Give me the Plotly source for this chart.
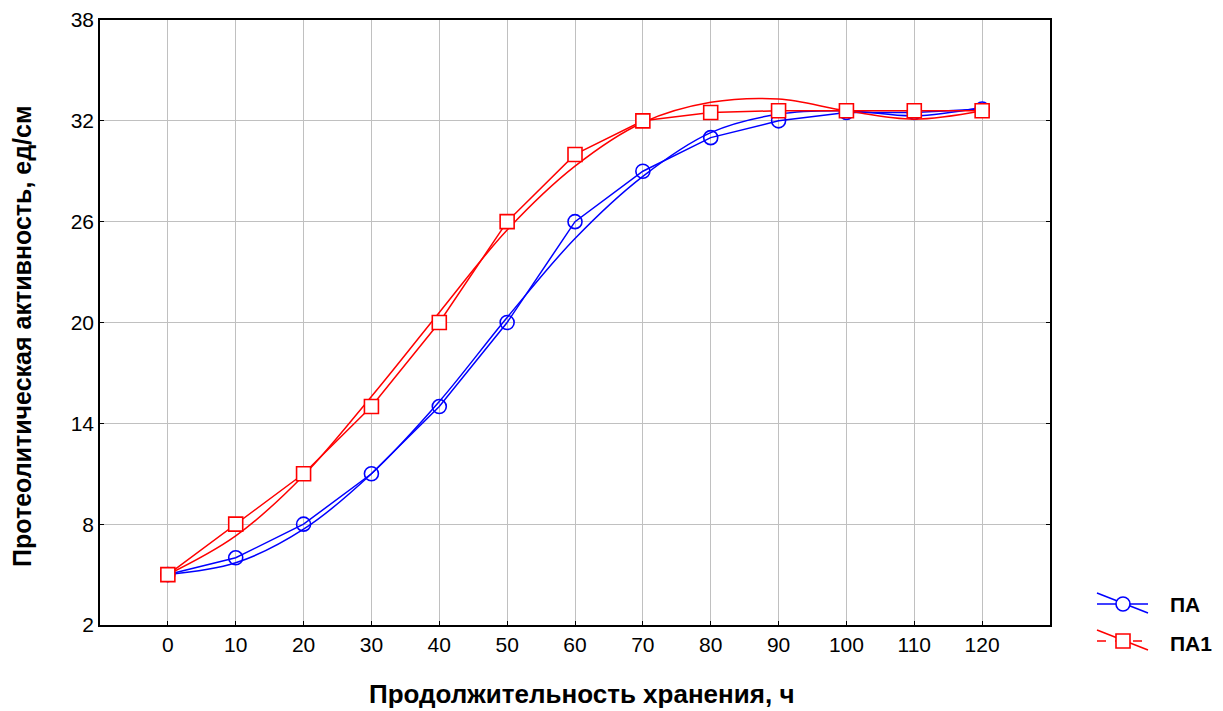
import plotly.graph_objects as go

# Data
hours = [0, 10, 20, 30, 40, 50, 60, 70, 80, 90, 100, 110, 120]
pa = [5.0, 6.0, 8.0, 11.0, 15.0, 20.0, 26.0, 29.0, 31.0, 32.0, 32.5, 32.5, 32.7]
pa1 = [5.0, 8.0, 11.0, 15.0, 20.0, 26.0, 30.0, 32.0, 32.5, 32.6, 32.6, 32.6, 32.6]
# smoothed fitted curves at the same hours
pa_fit = [5.0, 5.7, 7.7, 11.0, 15.3, 20.3, 25.0, 28.7, 31.3, 32.4, 32.6, 32.3, 32.8]
pa1_fit = [5.0, 7.3, 10.9, 15.6, 20.6, 25.5, 29.3, 31.9, 33.1, 33.3, 32.6, 32.1, 32.6]

x_ticks = list(range(0, 121, 10))
y_ticks = [2, 8, 14, 20, 26, 32, 38]

BLUE = "#0000ff"
RED = "#ff0000"
FONT = "Liberation Sans, Arial, sans-serif"

fig = go.Figure()

fig.add_trace(go.Scatter(x=hours, y=pa_fit, mode="lines", line=dict(color=BLUE, width=1.5, shape="spline", smoothing=1.0), showlegend=False, hoverinfo="skip"))
fig.add_trace(go.Scatter(x=hours, y=pa, mode="lines+markers", line=dict(color=BLUE, width=1.5),
                         marker=dict(symbol="circle-open", size=14, color=BLUE, line=dict(width=1.6)), name="ПА", showlegend=False))
fig.add_trace(go.Scatter(x=hours, y=pa1_fit, mode="lines", line=dict(color=RED, width=1.5, shape="spline", smoothing=1.0), showlegend=False, hoverinfo="skip"))
fig.add_trace(go.Scatter(x=hours, y=pa1, mode="lines+markers", line=dict(color=RED, width=1.5),
                         marker=dict(symbol="square", size=14, color="white", line=dict(width=1.6, color=RED)), name="ПА1", showlegend=False))

W, H = 1223, 711
L, R, T, B = 100, 1050, 20, 625

def px(x):
    return (x - L) / (R - L)

def py(y):
    return (B - y) / (B - T)

shapes = []
# legend ПА
shapes.append(dict(type="line", xref="paper", yref="paper", x0=px(1097), x1=px(1148), y0=py(604), y1=py(604), line=dict(color=BLUE, width=1.5)))
shapes.append(dict(type="line", xref="paper", yref="paper", x0=px(1097), x1=px(1148), y0=py(593), y1=py(613), line=dict(color=BLUE, width=1.5)))
shapes.append(dict(type="circle", xref="paper", yref="paper", x0=px(1116), x1=px(1130), y0=py(597), y1=py(611), line=dict(color=BLUE, width=1.6), fillcolor="white"))
# legend ПА1
shapes.append(dict(type="line", xref="paper", yref="paper", x0=px(1097), x1=px(1148), y0=py(641), y1=py(641), line=dict(color=RED, width=1.5, dash="dash")))
shapes.append(dict(type="line", xref="paper", yref="paper", x0=px(1097), x1=px(1148), y0=py(630), y1=py(650), line=dict(color=RED, width=1.5)))
shapes.append(dict(type="rect", xref="paper", yref="paper", x0=px(1116), x1=px(1130), y0=py(634), y1=py(648), line=dict(color=RED, width=1.6), fillcolor="white"))

annotations = [
    dict(text="<b>ПА</b>", xref="paper", yref="paper", x=px(1168), y=py(604), xanchor="left", yanchor="middle", showarrow=False, font=dict(size=21, color="black", family=FONT)),
    dict(text="<b>ПА1</b>", xref="paper", yref="paper", x=px(1168), y=py(643), xanchor="left", yanchor="middle", showarrow=False, font=dict(size=21, color="black", family=FONT)),
    dict(text="<b>Продолжительность хранения, ч</b>", xref="paper", yref="paper", x=px(581), y=py(694), xanchor="center", yanchor="middle", showarrow=False, font=dict(size=26, color="black", family=FONT)),
    dict(text="<b>Протеолитическая активность, ед/см</b>", xref="paper", yref="paper", x=px(22), y=py(337), xanchor="center", yanchor="middle", textangle=-90, showarrow=False, font=dict(size=25, color="black", family=FONT)),
]

fig.update_layout(
    width=W, height=H,
    margin=dict(l=L, r=W - R, t=T, b=H - B, autoexpand=False),
    paper_bgcolor="white", plot_bgcolor="white",
    font=dict(family=FONT, size=21, color="black"),
    shapes=shapes, annotations=annotations,
    showlegend=False,
)
fig.update_xaxes(
    range=[-10, 130], tickvals=x_ticks, ticktext=[str(v) for v in x_ticks],
    showgrid=True, gridcolor="#c0c0c0", gridwidth=1.2,
    showline=True, linecolor="black", linewidth=1.5, mirror=True,
    ticks="inside", ticklen=4, tickcolor="black",
    zeroline=False, automargin=False,
)
fig.update_yaxes(
    range=[2, 38], tickvals=y_ticks, ticktext=[str(v) for v in y_ticks],
    showgrid=True, gridcolor="#c0c0c0", gridwidth=1.2,
    showline=True, linecolor="black", linewidth=1.5, mirror="ticks",
    ticks="inside", ticklen=4, tickcolor="black",
    zeroline=False, automargin=False,
)

fig.write_html("out.html", config={"displayModeBar": False},
               post_script="document.body.style.margin='0';document.body.style.overflow='hidden';")
